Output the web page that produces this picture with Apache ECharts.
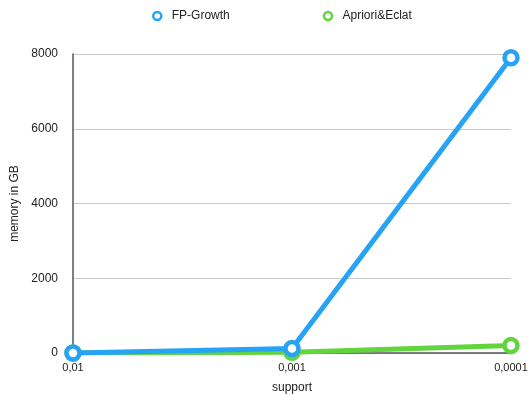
<!DOCTYPE html>
<html>
<head>
<meta charset="utf-8">
<script src="https://cdn.jsdelivr.net/npm/echarts@6/dist/echarts.min.js"></script>
<style>
html,body{margin:0;padding:0;background:#fff;}
#chart{width:528px;height:395px;}
</style>
</head>
<body>
<div id="chart"></div>
<script>
// data
const supports = ['0,01', '0,001', '0,0001'];
const fpGrowth = [0, 120, 7900];
const aprioriEclat = [0, 20, 200];
const yTicks = [0, 2000, 4000, 6000, 8000];

const font = 'Helvetica, "Liberation Sans", Arial, sans-serif';

function serie(name, data, color){
    return {
        name: name,
        type: 'line',
        data: data,
        symbol: 'circle',
        symbolSize: 13,
        lineStyle: {width: 5, color: color},
        itemStyle: {color: '#fff', borderColor: color, borderWidth: 4.5},
        emphasis: {disabled: true}
    };
}

let option = {
    animation: false,
    textStyle: {fontFamily: font},
    legend: {
        top: 5,
        left: 147,
        itemGap: 93,
        itemWidth: 9,
        itemHeight: 8,
        icon: 'circle',
        textStyle: {fontSize: 12, color: '#222', fontFamily: font, padding: [0, 0, 0, 5]},
        data: [
            {name: 'FP-Growth', itemStyle: {color: '#fff', borderColor: '#27a3f5', borderWidth: 2.5}},
            {name: 'Apriori&Eclat', itemStyle: {color: '#fff', borderColor: '#62d43d', borderWidth: 2.5}}
        ]
    },
    grid: {left: 73, right: 17, top: 54, bottom: 42, outerBoundsMode: 'none'},
    xAxis: {
        type: 'category',
        data: supports,
        boundaryGap: false,
        name: 'support',
        nameLocation: 'middle',
        nameGap: 29,
        nameTextStyle: {fontSize: 12, color: '#222'},
        axisLine: {lineStyle: {color: '#555', width: 1.5}},
        axisTick: {show: false},
        axisLabel: {fontSize: 11, color: '#222', margin: 9}
    },
    yAxis: {
        type: 'value',
        min: yTicks[0],
        max: yTicks[yTicks.length - 1],
        interval: 2000,
        name: 'memory in GB',
        nameLocation: 'middle',
        nameGap: 50,
        nameTextStyle: {fontSize: 12, color: '#222'},
        axisLine: {show: true, lineStyle: {color: '#555', width: 1.5}},
        axisTick: {show: false},
        axisLabel: {fontSize: 12, color: '#222', margin: 15, formatter: v => String(v)},
        splitLine: {lineStyle: {color: '#c8c8c8', width: 1}}
    },
    series: [
        serie('FP-Growth', fpGrowth, '#27a3f5'),
        serie('Apriori&Eclat', aprioriEclat, '#62d43d')
    ]
};
// green drawn under blue
option.series[1].z = 1;
option.series[0].z = 2;

echarts.init(document.getElementById('chart')).setOption(option);
</script>
</body>
</html>
